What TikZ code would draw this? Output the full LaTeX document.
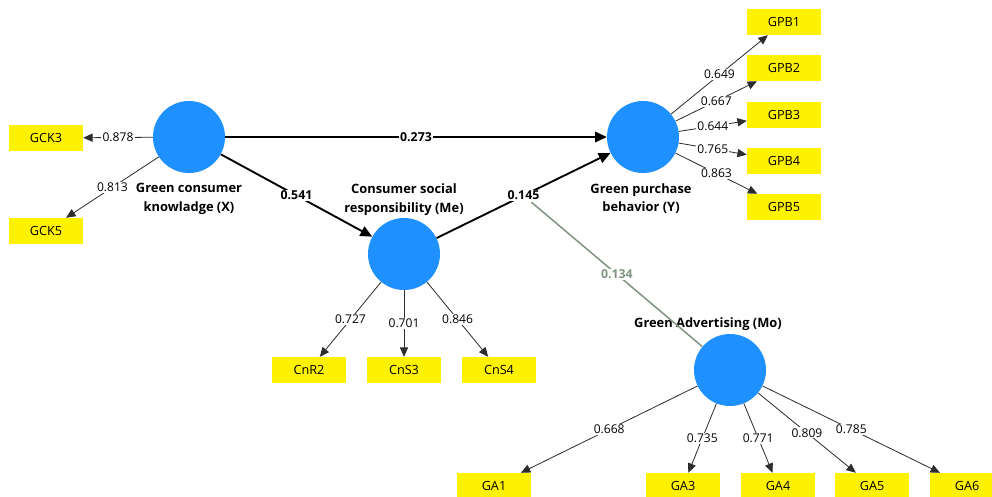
\documentclass[tikz,border=0pt]{standalone}
\usepackage{fontspec}
\setmainfont{Open Sans}
\usetikzlibrary{positioning}
\usetikzlibrary{arrows.meta}
\definecolor{latentblue}{RGB}{30,144,255}
\definecolor{modgreen}{RGB}{128,148,128}
\definecolor{linegray}{RGB}{45,45,45}

\begin{document}
\begin{tikzpicture}[x=0.03cm, y=-0.03cm,
                latent/.style = {circle, fill=latentblue, minimum size=2.16cm, inner sep=0pt},
                indicator/.style = {rectangle, fill=yellow, minimum width=2.22cm, minimum height=0.78cm,
                                    inner sep=0pt, font=\fontsize{10.8}{12}\selectfont},
                % Nomi dei costrutti
                title/.style = {font=\bfseries\fontsize{11}{16}\selectfont, align=center, inner sep=1pt},
                loading/.style = {-{Triangle[length=8pt,width=7pt]}, linegray, line width=0.7pt},
                structural/.style = {-{Triangle[length=10pt,width=9pt]}, black, line width=1.6pt},
                moderator/.style = {modgreen, line width=1.3pt},
                load label/.style = {fill=white, inner sep=1pt, text=black, font=\fontsize{10.3}{11}\selectfont},
                coef label/.style = {fill=white, inner sep=1pt, text=black, font=\bfseries\fontsize{10.5}{12}\selectfont}
                ]

                \useasboundingbox (0,0) rectangle (992,496);
                \clip (0,0) rectangle (992,496);

                % --- Costrutti latenti ---
                \node[latent] (X) at (189,137) {};
                \node[latent] (Me) at (404,254) {};
                \node[latent] (Y) at (643,137) {};
                \node[latent] (Mo) at (730,370) {};

                \node[title, below=2.6mm of X] (X-name) {Green consumer\\knowladge (X)};
                \node[title, above=0.2mm of Me] (Me-name) {Consumer social\\responsibility (Me)};
                \node[title, below=2.6mm of Y, xshift=-0.06cm] (Y-name) {Green purchase\\behavior (Y)};
                \node[title, above=0.6mm of Mo, xshift=-0.66cm] (Mo-name) {Green Advertising (Mo)};

                % --- Indicatori ---
                \node[indicator] (gck3) at (46,138) {GCK3};
                \node[indicator] (gck5) at (46,231) {GCK5};
                \foreach \i/\y in {1/22,2/68,3/115,4/161,5/207}
                    \node[indicator] (gpb\i) at (784,\y) {GPB\i};
                \node[indicator] (cnr2) at (309,370) {CnR2};
                \node[indicator] (cns3) at (404,370) {CnS3};
                \node[indicator] (cns4) at (499,370) {CnS4};
                \foreach \n/\x in {1/494,3/683,4/778,5/872,6/967}
                    \node[indicator] (ga\n) at (\x,486) {GA\n};

                % --- Loadings ---
                \draw[loading] (X) -- node[load label] (l-gck3) {0.878} (gck3);
                \draw[loading] (X) -- node[load label] (l-gck5) {0.813} (gck5);
                \foreach \i/\v in {1/0.649,2/0.667,3/0.644,4/0.765,5/0.863}
                    \draw[loading] (Y) -- node[load label] (l-gpb\i) {\v} (gpb\i);
                \draw[loading] (Me) -- node[load label] (l-cnr2) {0.727} (cnr2);
                \draw[loading] (Me) -- node[load label] (l-cns3) {0.701} (cns3);
                \draw[loading] (Me) -- node[load label] (l-cns4) {0.846} (cns4);
                \foreach \n/\v in {1/0.668,3/0.735,4/0.771,5/0.809,6/0.785}
                    \draw[loading] (Mo) -- node[load label] (l-ga\n) {\v} (ga\n);

                % --- Percorsi strutturali ---
                \draw[structural] (X) -- node[coef label] (c273) {0.273} (Y);
                \draw[structural] (X) -- node[coef label] (c541) {0.541} (Me);
                \draw[structural] (Me) -- node[coef label] (c145) {0.145} (Y);

                % --- Effetto di moderazione ---
                \draw[moderator] (Mo) -- node[coef label, text=modgreen] (c134) {0.134} (c145);

            \end{tikzpicture}
\end{document}
